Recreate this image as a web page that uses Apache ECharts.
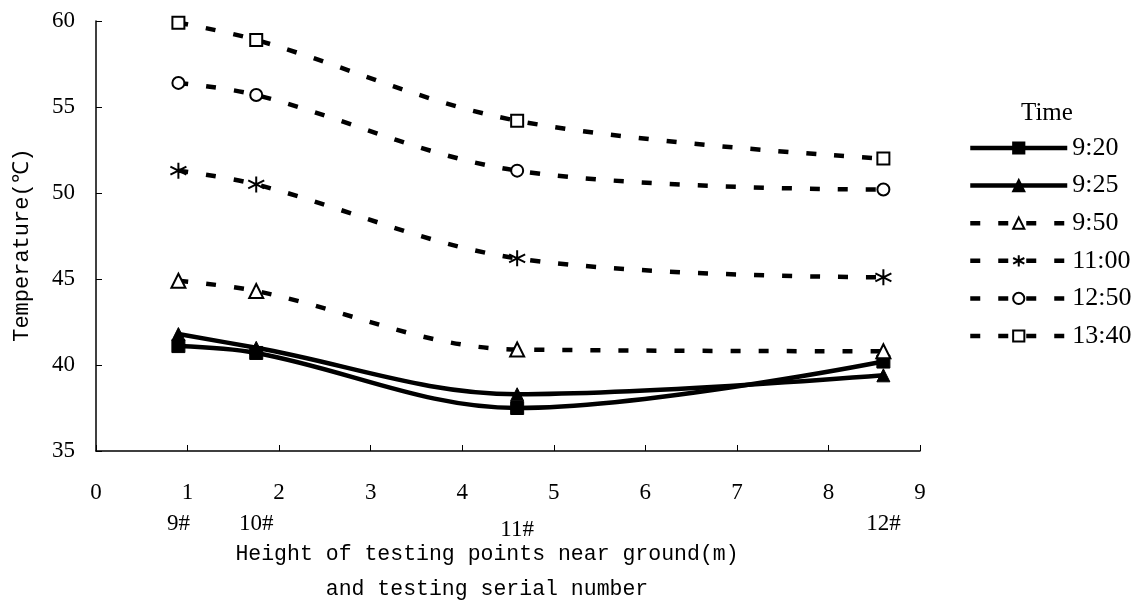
<!DOCTYPE html>
<html>
<head>
<meta charset="utf-8">
<script src="https://cdn.jsdelivr.net/npm/echarts@6/dist/echarts.min.js"></script>
<style>
html, body { margin: 0; padding: 0; background: #fff; }
#main { width: 1134px; height: 602px; }
</style>
</head>
<body>
<div id="main"></div>
<script>
const heights = [0.9, 1.75, 4.6, 8.6];
const serials = ["9#", "10#", "11#", "12#"];

const t0920 = [41.1, 40.7, 37.5, 40.2];
const t0925 = [41.8, 41.0, 38.3, 39.4];
const t0950 = [44.9, 44.3, 40.9, 40.8];
const t1100 = [51.3, 50.5, 46.2, 45.1];
const t1250 = [56.4, 55.7, 51.3, 50.2];
const t1340 = [59.9, 58.9, 54.2, 52.0];

const chart = echarts.init(document.getElementById("main"));

const serif = "Liberation Serif";
const mono = "Liberation Mono";
const star = "path://M0,-10L0,10M-8.66,-5L8.66,5M-8.66,5L8.66,-5";

function pts(vals) {
    return heights.map((h, i) => [h, vals[i]]);
}

function solid(name, vals, symbol) {
    return {
        name: name,
        type: "line",
        data: pts(vals),
        smooth: 0.35,
        symbol: symbol,
        symbolSize: 13,
        lineStyle: { color: "#000", width: 4.5, type: "solid" },
        itemStyle: { color: "#000", borderColor: "#000", borderWidth: 1 },
    };
}

function dashed(name, vals, symbol, size) {
    return {
        name: name,
        type: "line",
        data: pts(vals),
        smooth: 0.35,
        symbol: symbol,
        symbolSize: size,
        lineStyle: { color: "#000", width: 4.5, type: [10, 18] },
        itemStyle: { color: "#fff", borderColor: "#000", borderWidth: 2 },
    };
}

const option = {
    animation: false,
    backgroundColor: "#fff",
    title: {
        text: "Time",
        left: 1016,
        top: 96,
        textStyle: { fontFamily: serif, fontSize: 25, fontWeight: "normal", color: "#000" },
    },
    legend: {
        orient: "vertical",
        left: 963,
        top: 130,
        itemWidth: 97,
        itemHeight: 14,
        itemGap: 11.6,
        lineStyle: { width: 4.5 },
        textStyle: { fontFamily: serif, fontSize: 26, lineHeight: 26, color: "#000" },
    },
    grid: { left: 96, right: 214, top: 21, bottom: 151, outerBoundsMode: "none" },
    xAxis: [
        {
            type: "value",
            min: 0,
            max: 9,
            interval: 1,
            name: "Height of testing points near ground(m)\nand testing serial number",
            nameLocation: "middle",
            nameGap: 86,
            nameTextStyle: {
                fontFamily: mono,
                fontSize: 21.5,
                color: "#000",
                lineHeight: 35,
                padding: [0, 42, 0, 0],
            },
            axisLine: { lineStyle: { color: "#000", width: 1.5 } },
            axisTick: { inside: true, length: 6, lineStyle: { color: "#000" } },
            axisLabel: { margin: 30, fontFamily: serif, fontSize: 23, color: "#000" },
            splitLine: { show: false },
        },
        {
            type: "value",
            position: "bottom",
            min: 0,
            max: 9,
            axisLine: { show: false },
            axisTick: { show: false },
            splitLine: { show: false },
            axisLabel: {
                customValues: heights,
                margin: 61,
                fontFamily: serif,
                fontSize: 23,
                color: "#000",
                formatter: (v) => {
                    const i = heights.indexOf(v);
                    const s = serials[i] || "";
                    return i === 2 ? "{low|" + s + "}" : s;
                },
                rich: {
                    low: { fontFamily: serif, fontSize: 23, color: "#000", padding: [6, 0, 0, 0] },
                },
            },
        },
    ],
    yAxis: {
        type: "value",
        min: 35,
        max: 60,
        interval: 5,
        name: "Temperature(℃)",
        nameLocation: "middle",
        nameGap: 63,
        nameTextStyle: { fontFamily: mono, fontSize: 22, color: "#000", padding: [0, 18, 0, 0] },
        axisLine: { show: true, lineStyle: { color: "#000", width: 1.5 } },
        axisTick: { show: true, inside: true, length: 6, lineStyle: { color: "#000" } },
        axisLabel: { margin: 21, fontFamily: serif, fontSize: 23, color: "#000" },
        splitLine: { show: false },
    },
    series: [
        solid("9:20", t0920, "rect"),
        solid("9:25", t0925, "triangle"),
        dashed("9:50", t0950, "triangle", 14),
        dashed("11:00", t1100, star, 16),
        dashed("12:50", t1250, "circle", 12),
        dashed("13:40", t1340, "rect", 12),
    ],
};

chart.setOption(option);
</script>
</body>
</html>
